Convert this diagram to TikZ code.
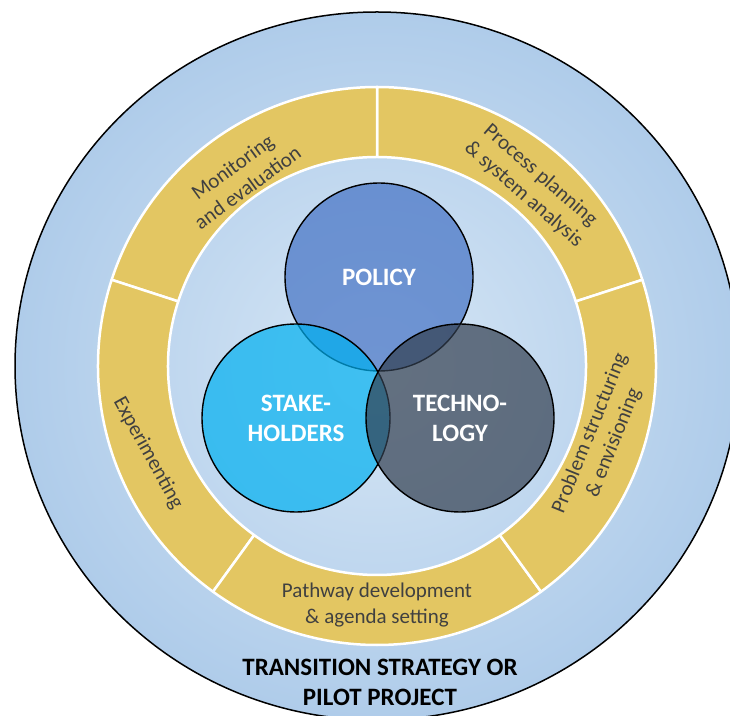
\documentclass[tikz,border=0pt]{standalone}
\usepackage{fontspec}
\setmainfont{Carlito}
\usetikzlibrary{calc}
\definecolor{ringyellow}{HTML}{E3C662}
\definecolor{segtext}{HTML}{404040}
\definecolor{policyblue}{HTML}{4472C4}
\definecolor{stakeblue}{HTML}{00B0F0}
\definecolor{techgray}{HTML}{333F50}
\definecolor{bginner}{HTML}{D6E6F5}
\definecolor{bgouter}{HTML}{AFCCEA}
\begin{document}
\begin{tikzpicture}[x=1pt,y=1pt,
  seg/.style={fill=ringyellow, draw=white, line width=2.5pt, line join=round},
  segtxt/.style={text=segtext, font=\fontsize{21}{25.5}\selectfont, align=center, inner sep=0pt},
  venn/.style={circle, minimum size=188pt, inner sep=0pt, draw=black, line width=1.4pt, fill opacity=0.7},
  vennlbl/.style={text=white, font=\fontsize{25}{30}\selectfont\bfseries, align=center, inner sep=0pt},
  titletxt/.style={text=black, font=\fontsize{25}{30}\selectfont\bfseries, inner sep=0pt}]
\useasboundingbox (0,0) rectangle (730,715);
\clip (0,0) rectangle (730,715);
\coordinate (C) at (377,349);
\shade[inner color=bginner, outer color=bgouter] (C) ellipse [x radius=362pt, y radius=354pt];
\draw[black, line width=1.5pt] (C) ellipse [x radius=362pt, y radius=354pt];
\foreach \a in {18,90,162,234,306} {
  \pgfmathsetmacro\b{\a+72}
  \draw[seg] ($(C)+(\a:279pt)$) arc[start angle=\a, end angle=\b, radius=279pt] -- ($(C)+(\b:209pt)$) arc[start angle=\b, end angle=\a, radius=209pt] -- cycle;
}
\node[segtxt, rotate=36] (monitor) at (240,538) {Monitoring\\and evaluation};
\node[segtxt, rotate=-41] (process) at (532,530) {Process planning\\\& system analysis};
\node[segtxt, rotate=-61] (experiment) at (148,262) {Experimenting};
\node[segtxt] (pathway) at (377,110) {Pathway development\\\& agenda setting};
\node[segtxt, rotate=68] (problem) at (602,277) {Problem structuring\\\& envisioning};
\node[venn, fill=policyblue] (policy) at (379,438) {};
\node[venn, fill=stakeblue] (stake) at (296,297) {};
\node[venn, fill=techgray] (tech) at (460,297) {};
\node[vennlbl] (policylbl) at (policy.center) {POLICY};
\node[vennlbl] (stakelbl) at (stake.center) {STAKE-\\HOLDERS};
\node[vennlbl] (techlbl) at (tech.center) {TECHNO-\\LOGY};
\node[titletxt, anchor=base] (title1) at (380,40) {TRANSITION STRATEGY OR};
\node[titletxt, anchor=base] (title2) at (380,10) {PILOT PROJECT};
\end{tikzpicture}
\end{document}
